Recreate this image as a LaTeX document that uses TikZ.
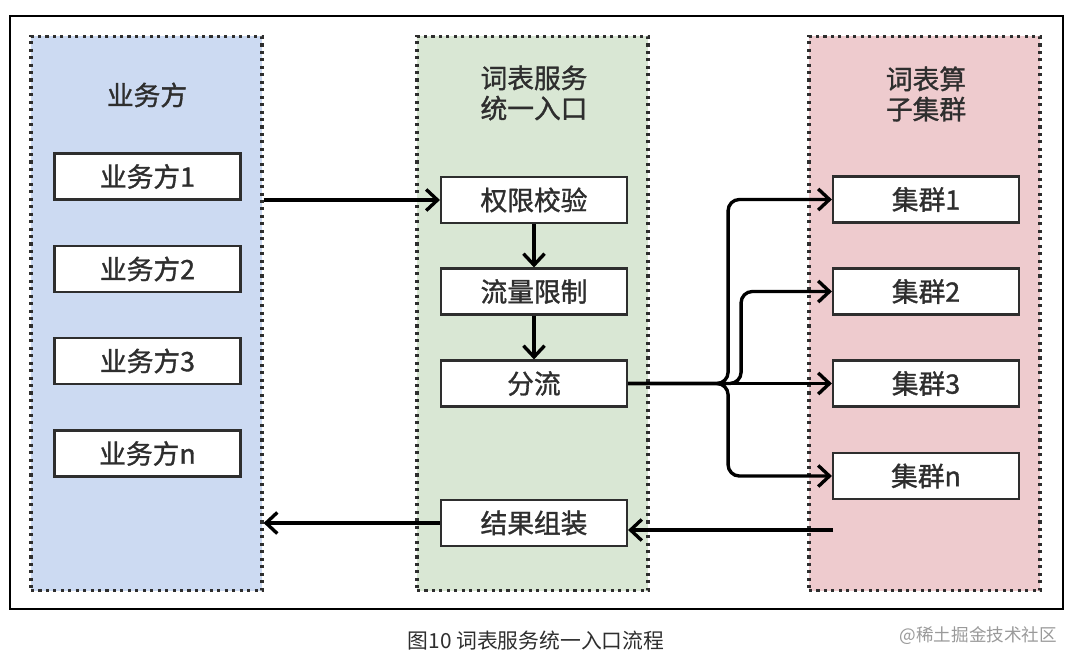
\documentclass[tikz,border=0pt]{standalone}
\usepackage{fontspec}
\setmainfont{Noto Sans CJK SC}
\newfontfamily\heavyfont{Noto Sans CJK SC}[FakeBold=1.2]
\usetikzlibrary{arrows.meta}

\definecolor{bizblue}{HTML}{CCDAF2}
\definecolor{svcgreen}{HTML}{D9E7D4}
\definecolor{clupink}{HTML}{EECBCE}
\definecolor{inkgray}{HTML}{2E2E2E}
\definecolor{markgray}{HTML}{9A9A9A}

\begin{document}
\begin{tikzpicture}[x=0.025cm, y=-0.025cm,
	group/.style={draw=inkgray, line width=2.2pt, dash pattern=on 2.2pt off 3.1pt,
		minimum width=5.775cm, minimum height=13.85cm, inner sep=0pt},
	box/.style={draw=inkgray, fill=white, line width=1.5pt, minimum width=4.65cm,
		minimum height=1.15cm, inner sep=0pt, text=inkgray, font=\heavyfont\fontsize{19}{21}\selectfont},
	title/.style={align=center, text=inkgray, font=\heavyfont\fontsize{19}{21.5}\selectfont},
	flow/.style={line width=2.4pt, -{Straight Barb[length=8pt, width=15pt]}}]
	\fill[white] (0,0) rectangle (1080,665);
	\useasboundingbox (0,0) rectangle (1080,665);

	%outer frame
	\draw[line width=1pt] (10,16) rectangle (1063,609);

	%business side
	\node[group, fill=bizblue] (biz) at (146.5,313.5) {};
	\node[title] (biztitle) at (147,95) {业务方};
	\node[box] (biz1) at (147.5,176.5) {业务方1};
	\node[box] (biz2) at (147.5,269) {业务方2};
	\node[box] (biz3) at (147.5,361) {业务方3};
	\node[box] (bizn) at (147.5,453.5) {业务方n};

	%unified entry
	\node[group, fill=svcgreen] (svc) at (532.5,313.5) {};
	\node[title] (svctitle) at (534,93) {词表服务\\统一入口};
	\node[box] (auth) at (534,200) {权限校验};
	\node[box] (limit) at (534,291.5) {流量限制};
	\node[box] (split) at (534,383.5) {分流};
	\node[box] (merge) at (534,523) {结果组装};

	%operator clusters
	\node[group, fill=clupink] (clu) at (924.5,313.5) {};
	\node[title] (clutitle) at (926,94) {词表算\\子集群};
	\node[box] (clu1) at (926,199.5) {集群1};
	\node[box] (clu2) at (926,291.5) {集群2};
	\node[box] (clu3) at (926,383.5) {集群3};
	\node[box] (clun) at (926,476) {集群n};

	%request path
	\draw[flow] (biz.east |- auth.west) -- (auth.west);
	\draw[flow] (auth.south) -- (limit.north);
	\draw[flow] (limit.south) -- (split.north);
	\draw[flow, rounded corners=8pt] (split.east) -- ++(100,0) |- (clu1.west);
	\draw[flow, rounded corners=8pt] (split.east) -- ++(113,0) |- (clu2.west);
	\draw[flow] (split.east) -- (clu3.west);
	\draw[flow, rounded corners=8pt] (split.east) -- ++(100,0) |- (clun.west);

	%response path
	\coordinate (back) at (833,530);
	\draw[flow] (back) -- (back -| merge.east);
	\draw[flow] (merge.west) -- (merge.west -| biz.east);

	%caption
	\node[text=inkgray, font=\fontsize{14.8}{16}\selectfont] (caption) at (536,641) {图10 词表服务统一入口流程};
	\node[anchor=east, text=markgray, font=\fontsize{12.5}{14}\selectfont] (mark) at (1062,636) {@稀土掘金技术社区};
\end{tikzpicture}
\end{document}
